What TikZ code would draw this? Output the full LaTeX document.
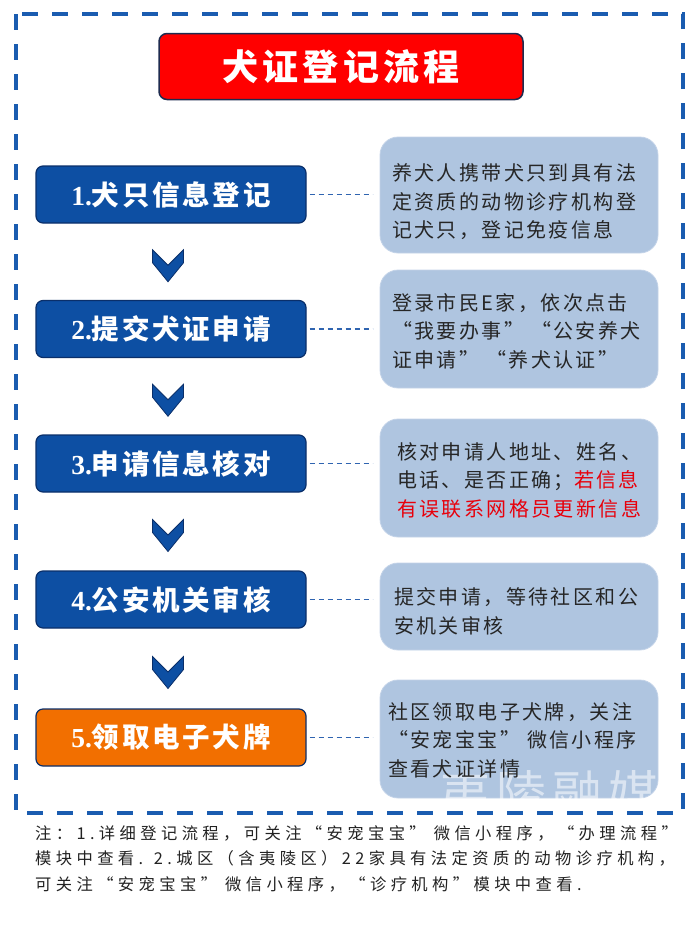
\documentclass[tikz,border=0pt]{standalone}
\usepackage{fontspec}
\setmainfont{Liberation Serif}
\newfontfamily\cjk{Noto Sans CJK SC}
\newfontfamily\cjkt{Noto Sans CJK SC}[LetterSpace=12]
\newfontfamily\cjks{Noto Sans CJK SC}[LetterSpace=10]
\newfontfamily\cjkls{Noto Sans CJK SC}[LetterSpace=12]
\newfontfamily\cjkfn{Noto Sans CJK SC}[LetterSpace=27]
\newfontfamily\cjkwm{Noto Sans CJK SC}[LetterSpace=12]
\usetikzlibrary{calc}
\definecolor{frameblue}{HTML}{1A5CB0}
\definecolor{stepblue}{HTML}{0D4FA3}
\definecolor{stepborder}{HTML}{0A2F6A}
\definecolor{steporange}{HTML}{F26F00}
\definecolor{infofill}{HTML}{AFC5E0}
\definecolor{infoborder}{HTML}{C3D3E8}
\definecolor{linkblue}{HTML}{2F64B0}
\definecolor{titlered}{HTML}{FF0000}
\definecolor{titleborder}{HTML}{1E2B4F}
\definecolor{warnred}{HTML}{E8000B}
\definecolor{fntext}{HTML}{222222}
\tikzset{
  titlebox/.style={draw=titleborder, line width=1.5pt, fill=titlered, rounded corners=8pt,
    minimum width=364pt, minimum height=66pt, inner sep=0pt, text=white,
    font=\cjkt\bfseries\fontsize{36}{36}\selectfont},
  stepbox/.style={draw=stepborder, line width=1.2pt, fill=stepblue, rounded corners=7pt,
    minimum width=270pt, minimum height=57pt, inner sep=0pt, text=white,
    font=\cjks\bfseries\fontsize{27.5}{30}\selectfont},
  infobox/.style={draw=infoborder, line width=0.8pt, fill=infofill, rounded corners=18pt,
    minimum width=278pt, inner sep=0pt},
  infotext/.style={anchor=west, align=left, inner sep=0pt, text=black!85,
    font=\cjkls\fontsize{20}{28.5}\selectfont},
  link/.style={draw=linkblue, line width=1.2pt, dash pattern=on 5pt off 4pt, shorten >=7pt, shorten <=3pt},
  chev/.style={fill=stepblue, draw=stepborder, line width=0.8pt, line join=miter},
  fnote/.style={anchor=west, inner sep=0pt, text=fntext, font=\cjkfn\fontsize{16.3}{16}\selectfont},
  frame/.style={draw=frameblue, line width=4pt, dash pattern=on 16pt off 14pt},
  chevron/.pic={\path[chev] (-15.5,-16) -- (-15.5,-3) -- (0,16) -- (15.5,-3) -- (15.5,-16) -- (0,-0.5) -- cycle;}
}
\begin{document}
\begin{tikzpicture}[x=1pt,y=-1pt]
\useasboundingbox (0,0) rectangle (700,929);

% title
\node[titlebox] (title) at (341,66.5) {犬证登记流程};

% steps
\node[stepbox] (s1) at (171,194.5) {{\rmfamily\bfseries 1.}犬只信息登记};
\node[stepbox] (s2) at (171,329) {{\rmfamily\bfseries 2.}提交犬证申请};
\node[stepbox] (s3) at (171,463.5) {{\rmfamily\bfseries 3.}申请信息核对};
\node[stepbox] (s4) at (171,599.5) {{\rmfamily\bfseries 4.}公安机关审核};
\node[stepbox, fill=steporange] (s5) at (171,737.5) {{\rmfamily\bfseries 5.}领取电子犬牌};

% chevrons between steps
\coordinate (c1) at ($(s1.south)!0.5!(s2.north)+(-3,4)$);
\coordinate (c2) at ($(s2.south)!0.5!(s3.north)+(-3,4)$);
\coordinate (c3) at ($(s3.south)!0.5!(s4.north)+(-3,4)$);
\coordinate (c4) at ($(s4.south)!0.5!(s5.north)+(-3,4)$);
\pic at (c1) {chevron};
\pic at (c2) {chevron};
\pic at (c3) {chevron};
\pic at (c4) {chevron};

% info boxes
\node[infobox, minimum height=116pt] (i1) at (519,195) {};
\node[infobox, minimum height=118pt] (i2) at (519,329) {};
\node[infobox, minimum height=118pt] (i3) at (519,478) {};
\node[infobox, minimum height=87pt] (i4) at (519,606.5) {};
\node[infobox, minimum height=118pt] (i5) at (519,739) {};

% watermark
\node[text=white, opacity=0.55, inner sep=0pt, anchor=west, font=\cjkwm\fontsize{50}{50}\selectfont] (wm) at (440,793) {夷陵融媒};

\node[infotext] (t1) at (392,202) {养犬人携带犬只到具有法\\定资质的动物诊疗机构登\\记犬只，登记免疫信息};
\node[infotext] (t2) at (392,331) {登录市民E家，依次点击\\“我要办事” “公安养犬\\证申请” “养犬认证”};
\node[infotext] (t3) at (397,480) {核对申请人地址、姓名、\\电话、是否正确；{\color{warnred}若信息}\\{\color{warnred}有误联系网格员更新信息}};
\node[infotext] (t4) at (394,611.5) {提交申请，等待社区和公\\安机关审核};
\node[infotext] (t5) at (388,740) {社区领取电子犬牌，关注\\“安宠宝宝” 微信小程序\\查看犬证详情};

% connectors
\draw[link] (s1.east) -- (s1.east -| i1.west);
\draw[link] (s2.east) -- (s2.east -| i2.west);
\draw[link] (s3.east) -- (s3.east -| i3.west);
\draw[link] (s4.east) -- (s4.east -| i4.west);
\draw[link] (s5.east) -- (s5.east -| i5.west);

% dashed frame
\draw[frame] (16,14) rectangle (683,813);

% footnote
\node[fnote] (f1) at (35,833) {注：1.详细登记流程，可关注“安宠宝宝” 微信小程序，“办理流程”};
\node[fnote] (f2) at (35,858) {模块中查看. 2.城区（含夷陵区）22家具有法定资质的动物诊疗机构，};
\node[fnote] (f3) at (35,884) {可关注“安宠宝宝” 微信小程序，“诊疗机构”模块中查看.};
\end{tikzpicture}
\end{document}
